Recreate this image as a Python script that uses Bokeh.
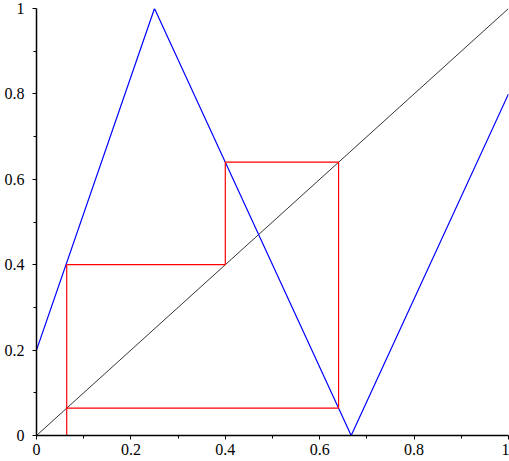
from bokeh.plotting import figure
from bokeh.models import Range1d, FixedTicker
from bokeh.embed import file_html
from bokeh.resources import INLINE

# piecewise-linear map
map_x = [0.0, 0.25, 0.6667, 1.0]
map_y = [0.2, 1.0, 0.0, 0.8]
# identity line
diag_x = [0.0, 1.0]
diag_y = [0.0, 1.0]
# cobweb path
cob_x = [0.064, 0.064, 0.4, 0.4, 0.64, 0.64, 0.064, 0.064]
cob_y = [0.0, 0.4, 0.4, 0.64, 0.64, 0.064, 0.064, 0.4]

major_ticks = [0, 0.2, 0.4, 0.6, 0.8, 1.0]
minor_ticks = [0.1, 0.3, 0.5, 0.7, 0.9]
tick_labels = ["0", "0.2", "0.4", "0.6", "0.8", "1"]

p = figure(width=509, height=461, output_backend="svg", toolbar_location=None,
           x_range=Range1d(0, 1), y_range=Range1d(0, 1),
           min_border_left=36, min_border_right=1, min_border_top=8, min_border_bottom=26)
p.outline_line_color = None
p.grid.visible = False
p.background_fill_color = "white"
p.border_fill_color = "white"

p.line(diag_x, diag_y, line_color="black", line_width=0.8)
p.line(map_x, map_y, line_color="#0000ff", line_width=1.2)
p.line(cob_x, cob_y, line_color="#ff0000", line_width=1.2)

overrides = {t: l for t, l in zip(major_ticks, tick_labels)}
for ax in (p.xaxis[0], p.yaxis[0]):
    ax.ticker = FixedTicker(ticks=major_ticks, minor_ticks=minor_ticks)
    ax.major_label_overrides = overrides
    ax.axis_line_color = "black"
    ax.axis_line_width = 1.5
    ax.major_tick_in = 0
    ax.major_tick_out = 4
    ax.minor_tick_in = 0
    ax.minor_tick_out = 3
    ax.major_label_text_font = "Liberation Serif"
    ax.major_label_text_font_size = "16px"
    ax.major_label_text_color = "black"
p.xaxis.major_label_standoff = 4
p.yaxis.major_label_standoff = 8

open("out.html", "w").write(file_html(p, INLINE))
